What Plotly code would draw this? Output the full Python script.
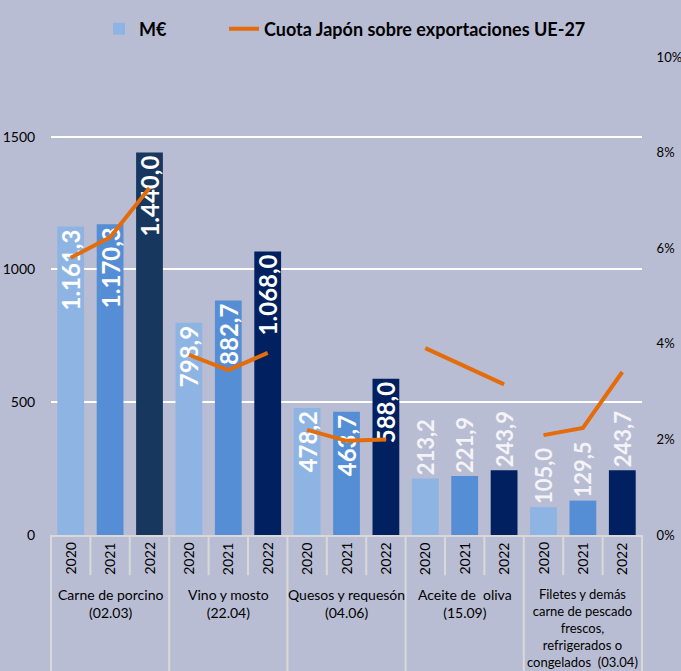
import plotly.graph_objects as go

# ---------------- data ----------------
categories = [
    "Carne de porcino<br>(02.03)",
    "Vino y mosto<br>(22.04)",
    "Quesos y requesón<br>(04.06)",
    "Aceite de  oliva<br>(15.09)",
    "Filetes y demás<br>carne de pescado<br>frescos,<br>refrigerados o<br>congelados  (03.04)",
]
years = ["2020", "2021", "2022"]
meur_2020 = [1161.3, 798.9, 478.2, 213.2, 105.0]
meur_2021 = [1170.3, 882.7, 463.7, 221.9, 129.5]
meur_2022 = [1440.0, 1068.0, 588.0, 243.9, 243.7]
share_2020 = [0.0580, 0.0377, 0.0220, 0.0391, 0.0209]
share_2021 = [0.0623, 0.0345, 0.0197, 0.0354, 0.0224]
share_2022 = [0.0726, 0.0381, 0.0200, 0.0315, 0.0341]
left_ticks = [0, 500, 1000, 1500]
right_ticks = [0, 0.02, 0.04, 0.06, 0.08, 0.10]

# ---------------- style ----------------
BG = "#B9BDD3"
FONT = "Lato, 'Open Sans', sans-serif"
C2020 = "#8EB4E3"
C2021 = "#558ED5"
C2022 = ["#17375E", "#002060", "#002060", "#002060", "#002060"]
ORANGE = "#E46C0A"
SEP = "#D9D9D9"


def es(v):
    s = f"{v:,.1f}"
    return s.replace(",", "X").replace(".", ",").replace("X", ".")


series = [meur_2020, meur_2021, meur_2022]
shares = [share_2020, share_2021, share_2022]
colors = [[C2020] * 5, [C2021] * 5, C2022]
ncat = len(categories)
ny = len(years)

fig = go.Figure()
for j in range(ny):
    vals = series[j]
    fig.add_trace(go.Bar(
        x=[i * ny + j for i in range(ncat)],
        y=vals,
        width=0.68,
        marker=dict(color=colors[j], line=dict(width=0)),
        text=[es(v) for v in vals],
        textposition=["inside" if v >= 400 else "outside" for v in vals],
        insidetextanchor="end",
        textangle=-90,
        constraintext="none",
        insidetextfont=dict(family=FONT, size=24, color="white", weight="bold"),
        outsidetextfont=dict(family=FONT, size=22, color="#F4F4F8", weight="bold"),
        cliponaxis=False,
        name="M€",
        showlegend=(j == 0),
        legend="legend",
        hoverinfo="skip",
    ))

lx, ly = [], []
for i in range(ncat):
    for j in range(ny):
        lx.append(i * ny + j)
        ly.append(shares[j][i])
    lx.append(None)
    ly.append(None)
fig.add_trace(go.Scatter(
    x=lx, y=ly, yaxis="y2", mode="lines",
    line=dict(color=ORANGE, width=4),
    connectgaps=False,
    name="Cuota Japón sobre exportaciones UE-27",
    legend="legend2",
    hoverinfo="skip",
))

annotations = []
for i in range(ncat):
    for j in range(ny):
        annotations.append(dict(
            x=i * ny + j, xref="x", y=-0.05, yref="paper",
            text=years[j], textangle=-90, showarrow=False,
            xanchor="center", yanchor="middle",
            font=dict(family=FONT, size=14, color="black"),
        ))
    annotations.append(dict(
        x=i * ny + 1, xref="x", y=-0.103, yref="paper",
        text=categories[i], showarrow=False,
        xanchor="center", yanchor="top", align="center",
        font=dict(family=FONT, size=13 if i == ncat - 1 else 14, color="black"),
    ))

shapes = []
for i in range(ncat + 1):
    shapes.append(dict(type="line", xref="paper", yref="paper",
                       x0=i / ncat, x1=i / ncat, y0=0, y1=-0.29,
                       line=dict(color=SEP, width=2)))
for i in range(ncat):
    for k in (1, 2):
        xp = (i * ny + k) / (ncat * ny)
        shapes.append(dict(type="line", xref="paper", yref="paper",
                           x0=xp, x1=xp, y0=0, y1=-0.084,
                           line=dict(color=SEP, width=2)))

legend_font = dict(family=FONT, size=18, color="black", weight="bold")
fig.update_layout(
    width=681, height=671,
    margin=dict(l=51, r=39, t=57, b=136, autoexpand=False),
    paper_bgcolor=BG, plot_bgcolor=BG,
    font=dict(family=FONT, size=14, color="black"),
    bargap=0.32,
    showlegend=True,
    legend=dict(
        orientation="h", xref="container", yref="container",
        x=99 / 681, y=1 - 29 / 671, xanchor="left", yanchor="middle",
        font=legend_font, bgcolor="rgba(0,0,0,0)",
    ),
    legend2=dict(
        orientation="h", xref="container", yref="container",
        x=224 / 681, y=1 - 29 / 671, xanchor="left", yanchor="middle",
        font=legend_font, bgcolor="rgba(0,0,0,0)",
    ),
    xaxis=dict(
        range=[-0.5, ncat * ny - 0.5], showticklabels=False, ticks="",
        showgrid=False, zeroline=False, showline=True,
        linecolor=SEP, linewidth=2, fixedrange=True,
    ),
    yaxis=dict(
        range=[0, 1800], tickvals=left_ticks,
        ticktext=[str(t) for t in left_ticks],
        showgrid=True, gridcolor="white", gridwidth=2,
        zeroline=False, showline=False,
        ticks="outside", ticklen=12, tickcolor="rgba(0,0,0,0)",
        tickfont=dict(size=14, color="black"),
    ),
    yaxis2=dict(
        range=[0, 0.10], tickvals=right_ticks, tickformat=".0%",
        overlaying="y", side="right", showgrid=False, zeroline=False,
        ticks="outside", ticklen=11, tickcolor="rgba(0,0,0,0)",
        tickfont=dict(size=13, color="black"),
    ),
    annotations=annotations,
    shapes=shapes,
)

fig.write_html(
    "out.html",
    config={"displayModeBar": False},
    post_script="document.body.style.margin='0';document.body.style.background='%s';" % BG,
)
